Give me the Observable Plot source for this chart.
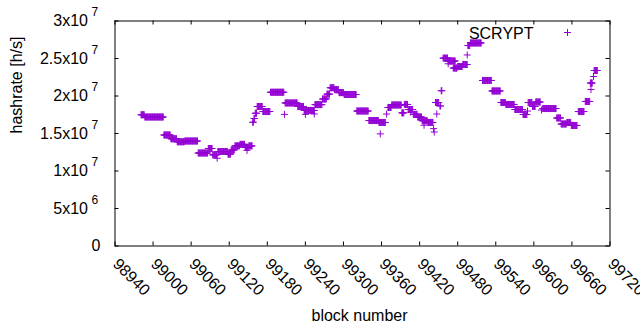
<!DOCTYPE html>
<html><head><meta charset="utf-8">
<script src="https://cdn.jsdelivr.net/npm/d3@7"></script>
<script src="https://cdn.jsdelivr.net/npm/@observablehq/plot@0.6"></script>
<style>html,body{margin:0;padding:0;background:#fff}svg{display:block}</style>
</head><body><div id="chart"></div>
<script>
// Runs of blocks that share one hashrate reading (units: 1e6 h/s)
const runFrom = [98981,98987,99017,99028,99038,99050,99071,99087,99094,99102,99118,99123,99129,99137,99145,99151,99157,99159,99161,99164,99173,99185,99208,99228,99238,99255,99267,99274,99279,99286,99293,99301,99321,99340,99356,99370,99376,99392,99396,99402,99410,99417,99424,99433,99445,99452,99454,99457,99465,99473,99480,99488,99496,99500,99519,99534,99548,99556,99570,99583,99591,99598,99603,99614,99636,99643,99652,99659,99670,99681,99689,99695];
const runTo   = [98986,99016,99027,99037,99049,99070,99086,99093,99100,99117,99122,99128,99136,99144,99150,99156,99158,99160,99163,99172,99184,99206,99227,99237,99254,99266,99273,99278,99285,99292,99300,99320,99339,99355,99366,99375,99391,99395,99401,99409,99416,99423,99432,99441,99450,99453,99455,99464,99476,99479,99487,99495,99499,99517,99533,99547,99555,99569,99582,99589,99597,99602,99610,99635,99642,99651,99658,99668,99679,99688,99692,99700];
const runRate = [17.5,17.2,14.8,14.3,13.9,14.0,12.4,13.0,12.15,12.6,12.25,12.8,13.35,13.55,13.15,13.35,16.5,17.0,17.7,18.6,17.93,20.5,19.07,18.6,18.07,18.85,19.6,20.25,21.1,20.85,20.45,20.2,18.0,16.73,16.47,18.47,18.8,17.75,18.87,18.2,17.55,17.2,16.7,16.47,19.13,18.67,20.7,25.05,24.67,23.73,23.93,24.2,26.73,27.07,22.07,20.67,19.13,18.87,18.2,17.53,19.13,18.6,19.2,18.33,17.07,16.27,16.47,16.07,17.93,19.27,21.73,23.4];
// Isolated readings
const singleBlock = [99101,99148,99207,99240,99254,99358,99368,99406,99427,99442,99443,99447,99465,99495,99590,99612,99690,99694];
const singleRate  = [11.7,12.75,17.55,17.55,17.6,14.95,17.6,17.85,16.1,15.65,15.2,17.6,24.3,25.47,18.0,18.13,20.87,22.6];

const seriesName = "SCRYPT";
const xTicks = [98940,99000,99060,99120,99180,99240,99300,99360,99420,99480,99540,99600,99660,99720];
const yTicks = [0,5e6,1e7,1.5e7,2e7,2.5e7,3e7];
const yTickBase = ["0","5x10","1x10","1.5x10","2x10","2.5x10","3x10"];
const yTickExp  = ["","6","7","7","7","7","7"];
const xLabel = "block number";
const yLabel = "hashrate [h/s]";

const points = [];
runFrom.forEach((from, i) => {
  for (let b = from; b <= runTo[i]; b++) points.push({block: b, rate: runRate[i] * 1e6});
});
singleBlock.forEach((b, i) => points.push({block: b, rate: singleRate[i] * 1e6}));

const idx = d3.range(yTicks.length);
const expIdx = idx.filter(i => yTickExp[i] !== "");
const plainIdx = idx.filter(i => yTickExp[i] === "");
const purple = "#9400d3";

const chart = Plot.plot({
  width: 640, height: 330,
  marginLeft: 114.5, marginRight: 30.5, marginTop: 20.5, marginBottom: 84.5,
  style: {fontFamily: '"Liberation Sans", Arial, sans-serif', fontSize: "16px", background: "white", color: "black"},
  x: {domain: [98940, 99720], axis: null},
  y: {domain: [0, 3e7], axis: null},
  marks: [
    Plot.dot(points, {x: "block", y: "rate", symbol: "plus", r: 2.4, stroke: purple, strokeWidth: 1}),
    Plot.tickX(xTicks, {x: d => d, insetTop: 221, stroke: "black"}),
    Plot.tickX(xTicks, {x: d => d, insetBottom: 221, stroke: "black"}),
    Plot.tickY(yTicks, {y: d => d, insetRight: 491, stroke: "black"}),
    Plot.tickY(yTicks, {y: d => d, insetLeft: 491, stroke: "black"}),
    Plot.frame({stroke: "black"}),
    Plot.text(xTicks, {x: d => d, text: d => String(d), frameAnchor: "bottom", dy: 19, dx: -3, rotate: 45, textAnchor: "start", lineAnchor: "bottom"}),
    Plot.text(expIdx, {y: i => yTicks[i], text: i => yTickBase[i], frameAnchor: "left", dx: -27, textAnchor: "end", lineAnchor: "middle"}),
    Plot.text(expIdx, {y: i => yTicks[i], text: i => yTickExp[i], frameAnchor: "left", dx: -23.5, dy: -5, textAnchor: "start", lineAnchor: "bottom", fontSize: 12}),
    Plot.text(plainIdx, {y: i => yTicks[i], text: i => yTickBase[i], frameAnchor: "left", dx: -14.5, textAnchor: "end", lineAnchor: "middle"}),
    Plot.text([xLabel], {frameAnchor: "bottom", dx: -3, dy: 70, lineAnchor: "middle"}),
    Plot.text([yLabel], {frameAnchor: "left", dx: -98, rotate: -90, lineAnchor: "middle"}),
    Plot.text([seriesName], {frameAnchor: "top-right", dx: -76.5, dy: 17.5, textAnchor: "end", lineAnchor: "bottom"}),
    Plot.dot([seriesName], {frameAnchor: "top-right", dx: -42.5, dy: 11.5, symbol: "plus", r: 2.4, stroke: purple, strokeWidth: 1})
  ]
});
document.getElementById("chart").append(chart);
</script>
</body></html>
